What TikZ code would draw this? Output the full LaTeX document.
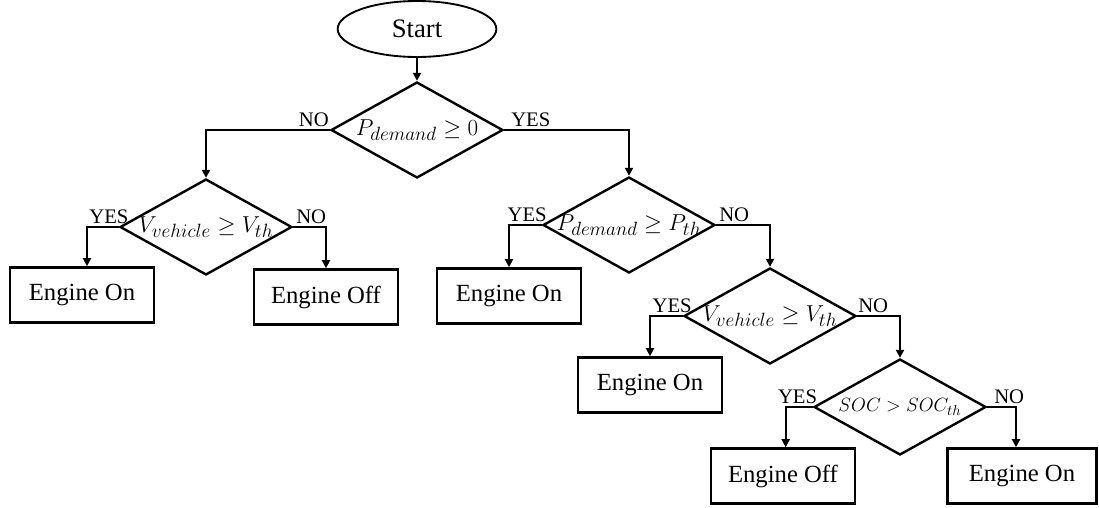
\documentclass[tikz,border=0pt]{standalone}
\usepackage{fontspec}
\setmainfont{Liberation Serif}
\usetikzlibrary{arrows.meta,positioning,shapes.geometric}
\tikzset{
  terminal/.style={draw=black,ellipse,line width=1.4pt,inner sep=0pt,minimum width=119pt,minimum height=42pt,font=\fontsize{20}{24}\selectfont},
  decision/.style={draw=black,diamond,line width=1.8pt,aspect=1.8,inner xsep=-15pt,inner ysep=0pt,minimum width=129pt,minimum height=72pt,font=\fontsize{19}{22}\selectfont},
  result/.style={draw=black,line width=2.2pt,minimum width=108pt,minimum height=41pt,font=\fontsize{18.5}{22}\selectfont},
  answer/.style={font=\fontsize{15.5}{18}\selectfont,inner sep=0pt},
  arrow/.style={-{Triangle[length=6pt,width=6pt]},line width=1.6pt,draw=black}
}

\begin{document}
\begin{tikzpicture}[x=0.75pt,y=-0.75pt]
  \useasboundingbox (0,0) rectangle (1099,507);
  \node (start) [terminal] at (417,29) {Start};

  \node (pdem) [decision] at (417,130) {$P_{demand}\geq 0$};
  \node (vveh1) [decision] at (206,227) {$V_{vehicle}\geq V_{th}$};
  \node (pth) [decision] at (629,225) {$P_{demand}\geq P_{th}$};
  \node (vveh2) [decision] at (770,316) {$V_{vehicle}\geq V_{th}$};
  \node (soc) [decision,font=\fontsize{15}{18}\selectfont] at (900,407) {$SOC>SOC_{th}$};

  \node (on1) [result] at (82,295) {Engine On};
  \node (off1) [result] at (326,297) {Engine Off};
  \node (on2) [result] at (509,296) {Engine On};
  \node (on3) [result] at (650,385) {Engine On};
  \node (off2) [result] at (783,476) {Engine Off};
  \node (on4) [result,minimum width=112pt] at (1022,476) {Engine On};

  \draw[arrow] (start) -- (pdem);
  \draw[arrow] (pdem.west) -| node[answer,pos=0,anchor=base east,yshift=3pt] {NO} (vveh1.north);
  \draw[arrow] (pdem.east) -| node[answer,pos=0,anchor=base west,yshift=3pt,xshift=4.5pt] {YES} (pth.north);
  \draw[arrow] (vveh1.west) -| node[answer,pos=0,anchor=base east,yshift=3pt,xshift=8pt] {YES} ([xshift=3.75pt]on1.north);
  \draw[arrow] (vveh1.east) -| node[answer,pos=0,anchor=base west,yshift=3pt,xshift=1.5pt] {NO} (off1.north);
  \draw[arrow] (pth.west) -| node[answer,pos=0,anchor=base east,yshift=3pt,xshift=4.5pt] {YES} (on2.north);
  \draw[arrow] (pth.east) -| node[answer,pos=0,anchor=base west,yshift=3pt,xshift=1.5pt] {NO} (vveh2.north);
  \draw[arrow] (vveh2.west) -| node[answer,pos=0,anchor=base east,yshift=3pt,xshift=7.5pt] {YES} (on3.north);
  \draw[arrow] (vveh2.east) -| node[answer,pos=0,anchor=base west,yshift=3pt] {NO} (soc.north);
  \draw[arrow] (soc.west) -| node[answer,pos=0,anchor=base east,yshift=3pt,xshift=4pt] {YES} ([xshift=2pt]off2.north);
  \draw[arrow] (soc.east) -| node[answer,pos=0,anchor=base west,yshift=3pt,xshift=4.5pt] {NO} ([xshift=-4.5pt]on4.north);
\end{tikzpicture}
\end{document}
